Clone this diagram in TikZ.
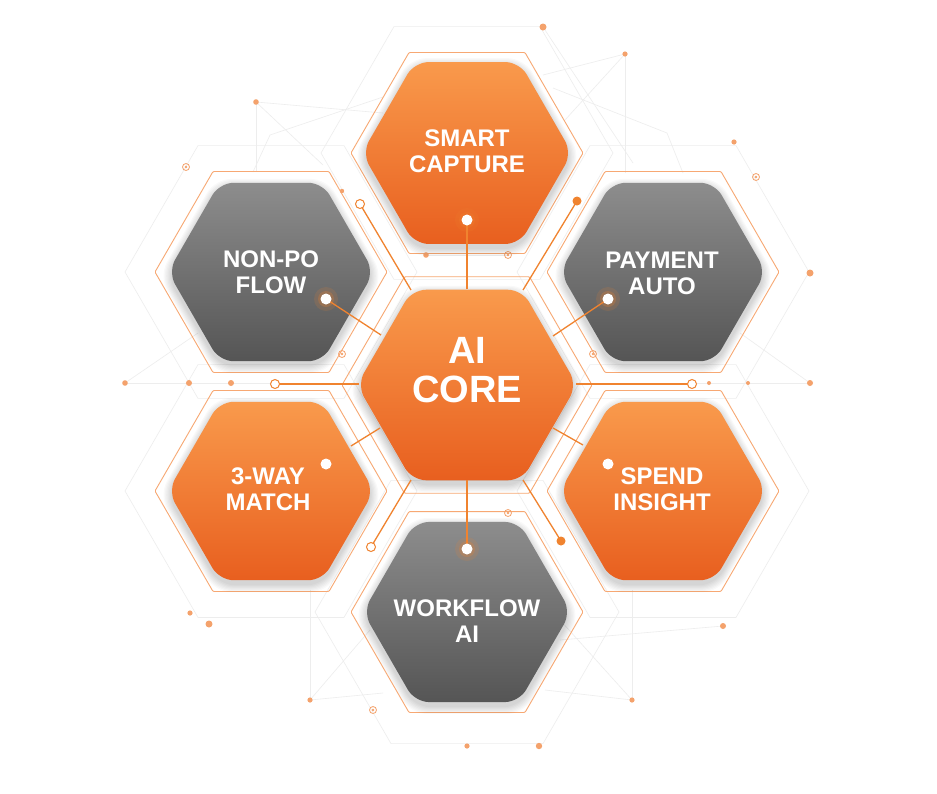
\documentclass[tikz,border=0pt]{standalone}
\usepackage{fontspec}
\setmainfont{Liberation Sans}
\definecolor{orT}{HTML}{F99A4C}
\definecolor{orB}{HTML}{E85F1F}
\definecolor{grT}{HTML}{8D8D8D}
\definecolor{grB}{HTML}{555555}
\definecolor{lineor}{HTML}{F0832F}
\definecolor{outor}{HTML}{F7A873}
\definecolor{netgr}{HTML}{EDEDED}
\definecolor{dotor}{HTML}{F4A26C}
\newcommand\hexpath[4]{\path[#4,shift={(#1,#2)}] (0:#3) -- (60:#3) -- (120:#3) -- (180:#3) -- (240:#3) -- (300:#3) -- cycle;}
\newcommand\hexshade[3]{%
  \foreach \k in {1,...,7}{\hexpath{#1}{#2+4}{#3+\k*1.3}{softsh}}}
\tikzset{
  softsh/.style={fill=black, fill opacity=0.022, rounded corners=16pt},
  orhex/.style={top color=orT, bottom color=orB, rounded corners=14pt},
  grhex/.style={top color=grT, bottom color=grB, rounded corners=14pt},
  outhex/.style={draw=outor, line width=0.9pt, rounded corners=1pt},
  bighex/.style={draw=netgr, line width=0.6pt},
  net/.style={draw=netgr, line width=0.6pt},
  conn/.style={draw=lineor, line width=1.3pt},
  lbl/.style={text=white, font=\fontsize{24}{26}\selectfont\bfseries, align=center, inner sep=0pt},
  corelbl/.style={text=white, font=\fontsize{38}{39}\selectfont\bfseries, align=center, inner sep=0pt},
  ringdot/.style={draw=lineor, fill=white, line width=1pt},
  sring/.style={draw=dotor, line width=0.8pt},
}
\begin{document}
\begin{tikzpicture}[x=1pt,y=-1pt]
\useasboundingbox (0,0) rectangle (937,793);
\fill[white] (0,0) rectangle (937,793);

% faint background network
\hexpath{271}{272}{146}{bighex}
\hexpath{663}{272}{146}{bighex}
\hexpath{271}{491}{146}{bighex}
\hexpath{663}{491}{146}{bighex}
\hexpath{467}{153}{146}{bighex}
\hexpath{467}{612}{152}{bighex}
\path[net] (256,102) -- (383,113);
\path[net] (256,102) -- (256,172);
\path[net] (256,102) -- (323,165);
\path[net] (270,135) -- (383,97);
\path[net] (270,135) -- (253,172);
\path[net] (543,27) -- (633,163);
\path[net] (625,54) -- (543,75);
\path[net] (625,54) -- (625,173);
\path[net] (625,54) -- (565,120);
\path[net] (553,88) -- (667,133) -- (683,173);
\path[net] (426,255) -- (508,255);
\path[net] (125,383) -- (275,383);
\path[net] (692,383) -- (810,383);
\path[net] (125,383) -- (198,333);
\path[net] (810,383) -- (740,333);
\path[net] (310,700) -- (310,590);
\path[net] (310,700) -- (383,693);
\path[net] (310,700) -- (370,630);
\path[net] (632,700) -- (632,590);
\path[net] (632,700) -- (545,690);
\path[net] (632,700) -- (560,620);
\path[net] (723,626) -- (560,640);

% orange outline hexes
\hexpath{467}{385}{125}{outhex}
\hexpath{467}{153}{116}{outhex}
\hexpath{467}{612}{116}{outhex}
\hexpath{271}{272}{116}{outhex}
\hexpath{663}{272}{116}{outhex}
\hexpath{271}{491}{116}{outhex}
\hexpath{663}{491}{116}{outhex}

% scattered dots
\fill[dotor] (256,102) circle (2.8);
\fill[dotor] (426,255) circle (2.8);
\fill[dotor] (125,383) circle (2.8);
\fill[dotor] (189,383) circle (3);
\fill[dotor] (231,383) circle (3);
\fill[dotor] (543,27) circle (3.5);
\fill[dotor] (625,54) circle (2.6);
\fill[dotor] (734,142) circle (2.6);
\fill[dotor] (810,273) circle (3.5);
\fill[dotor] (709,383) circle (2);
\fill[dotor] (748,383) circle (2);
\fill[dotor] (810,383) circle (3);
\fill[dotor] (190,613) circle (2.6);
\fill[dotor] (209,624) circle (3.5);
\fill[dotor] (310,700) circle (2.6);
\fill[dotor] (467,746) circle (2.6);
\fill[dotor] (723,626) circle (3);
\fill[dotor] (632,700) circle (2.6);
\fill[dotor] (539,746) circle (3.2);
\fill[dotor] (342,191) circle (2.2);
\foreach \x/\y in {186/167, 342/354, 756/177, 593/354, 508/255, 508/513, 373/710}{
  \path[sring] (\x,\y) circle (3.5);
  \fill[dotor] (\x,\y) circle (1.3);
}

% soft shadows
\hexshade{467}{153}{105}
\hexshade{271}{272}{103}
\hexshade{663}{272}{103}
\hexshade{271}{491}{103}
\hexshade{663}{491}{103}
\hexshade{467}{612}{104}
\hexshade{467}{385}{110}

% hexagon tiles
\hexpath{467}{153}{105}{orhex}
\hexpath{271}{272}{103}{grhex}
\hexpath{663}{272}{103}{grhex}
\hexpath{271}{491}{103}{orhex}
\hexpath{663}{491}{103}{orhex}
\hexpath{467}{612}{104}{grhex}
\hexpath{467}{385}{110}{orhex}

% connection points
\coordinate (cT) at (467,289);
\coordinate (cB) at (467,480);
\coordinate (cTL) at (381,335);
\coordinate (cTR) at (553,336);
\coordinate (cBL) at (380,428);
\coordinate (cBR) at (553,428);
\coordinate (eBL) at (351,446);
\coordinate (eBR) at (583,445);
\coordinate (dT) at (467,220);
\coordinate (dB) at (467,549);
\coordinate (dTL) at (326,299);
\coordinate (dTR) at (608,299);
\coordinate (dBL) at (326,464);
\coordinate (dBR) at (608,464);
\coordinate (cL) at (359,384);
\coordinate (cR) at (576,384);
\coordinate (oL) at (275,384);
\coordinate (oR) at (692,384);
\coordinate (oTL) at (360,204);
\coordinate (oBL) at (371,547);
\coordinate (fTR) at (577,201);
\coordinate (fBR) at (561,541);
\coordinate (kTL) at (411,290);
\coordinate (kTR) at (523,290);
\coordinate (kBL) at (411,480);
\coordinate (kBR) at (523,480);

% connectors
\path[conn] (cT) -- (dT);
\path[conn] (cB) -- (dB);
\path[conn] (cTL) -- (dTL);
\path[conn] (cTR) -- (dTR);
\path[conn] (cBL) -- (eBL);
\path[conn] (cBR) -- (eBR);
\path[conn] (oL) -- (cL);
\path[conn] (cR) -- (oR);
\path[conn] (oTL) -- (kTL);
\path[conn] (fTR) -- (kTR);
\path[conn] (oBL) -- (kBL);
\path[conn] (fBR) -- (kBR);

% end markers
\foreach \d in {dT,dB,dTL,dTR}{
  \fill[lineor, opacity=0.15] (\d) circle (12);
  \fill[lineor, opacity=0.25] (\d) circle (8);
  \fill[white] (\d) circle (5.5);
}
\fill[white] (dBL) circle (5.5);
\fill[white] (dBR) circle (5.5);
\path[ringdot] (oL) circle (4.5);
\path[ringdot] (oR) circle (4.5);
\path[ringdot] (oTL) circle (4.5);
\path[ringdot] (oBL) circle (4.5);
\fill[lineor] (fTR) circle (4.5);
\fill[lineor] (fBR) circle (4.5);

% labels
\node[lbl] (t) at (467,151) {SMART\\CAPTURE};
\node[lbl] (tl) at (271,272) {NON-PO\\FLOW};
\node[lbl] (tr) at (662,273) {PAYMENT\\AUTO};
\node[corelbl] (core) at (467,370) {AI\\CORE};
\node[lbl] (bl) at (268,489) {3-WAY\\MATCH};
\node[lbl] (br) at (662,489) {SPEND\\INSIGHT};
\node[lbl] (b) at (467,621) {WORKFLOW\\AI};
\end{tikzpicture}
\end{document}
